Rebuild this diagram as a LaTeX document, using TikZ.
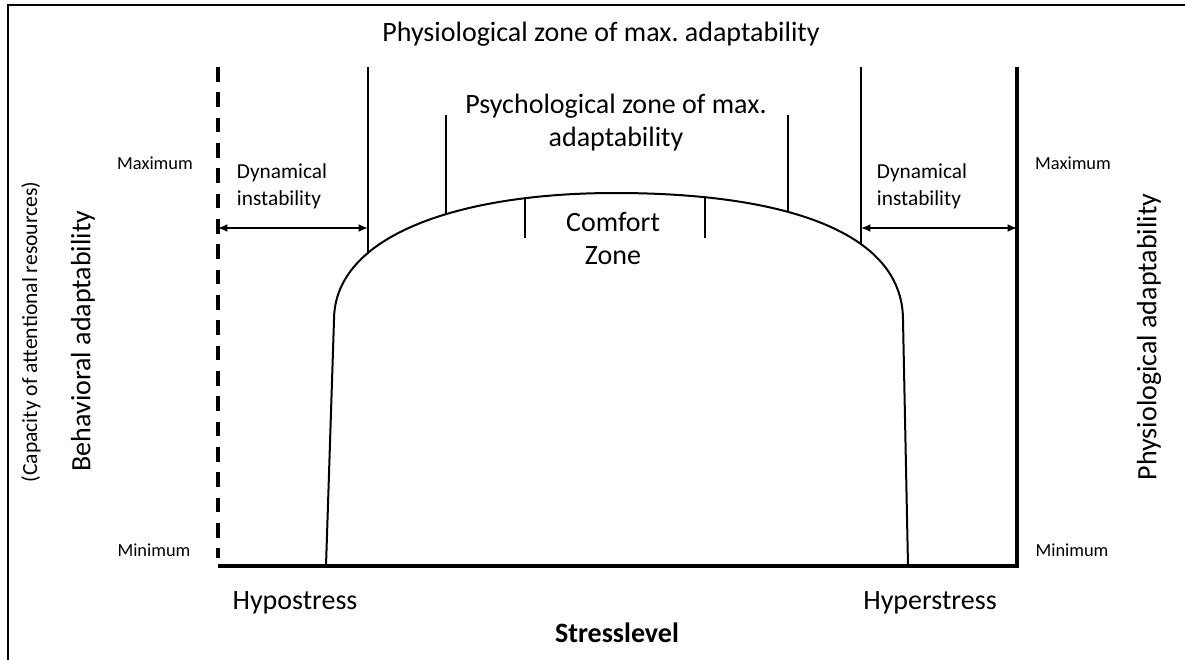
\documentclass[tikz,border=0pt]{standalone}
\usepackage{fontspec}
\setmainfont{Carlito}
\usetikzlibrary{arrows.meta}
\frenchspacing

\begin{document}
\begin{tikzpicture}[x=0.75pt,y=-0.75pt,
    big/.style={font=\fontsize{21}{24.75}\selectfont,align=center},
    mid/.style={font=\fontsize{16}{20}\selectfont,align=left},
    small/.style={font=\fontsize{13.8}{16}\selectfont},
    zoneline/.style={line width=1.1pt},
    axis/.style={line width=3pt},
    gaparrow/.style={line width=1.4pt,{Latex[length=7pt,width=6pt]}-{Latex[length=7pt,width=6pt]}}]
        \useasboundingbox (0,0) rectangle (1185,660);

        % Rahmen
        \draw[line width=2pt] (8,660) -- (8,5) -- (1185,5);

        % Achsen
        \coordinate (hypo top) at (218,67);
        \coordinate (hypo bottom) at (218,558);
        \coordinate (origin) at (218,566);
        \coordinate (hyper end) at (1017,566);
        \coordinate (hyper top) at (1017,67);
        \draw[axis,dash pattern=on 11pt off 8pt] (hypo top) -- (hypo bottom);
        \draw[axis,line join=miter] (origin) -- (hyper end) -- (hyper top);

        % Kurve
        \coordinate (phys l) at (368,253.5);
        \coordinate (phys r) at (861,244.5);
        \coordinate (psych l) at (446,214);
        \coordinate (psych r) at (788,212);
        \coordinate (comf l) at (525,198.5);
        \coordinate (comf r) at (705,197.5);
        \draw[line width=1.5pt] (326,566) -- (334,320)
            .. controls (334,235) and (460,193) .. (615,193)
            .. controls (780,193) and (903,230) .. (903,320) -- (908,566);

        % Zonengrenzen
        \draw[zoneline] (phys l) -- (368,67);
        \draw[zoneline] (phys r) -- (861,67);
        \draw[zoneline] (psych l) -- (446,115);
        \draw[zoneline] (psych r) -- (788,115);
        \draw[zoneline] (525,238) -- (comf l);
        \draw[zoneline] (705,238) -- (comf r);

        % Instabilitaet
        \draw[gaparrow] (218,228) -- (368,228);
        \draw[gaparrow] (861,228) -- (1017,228);
        \node[mid] (dyn l) at (282,186) {Dynamical\\instability};
        \node[mid] (dyn r) at (922,186) {Dynamical\\instability};

        % Zonen
        \node[big] (phys zone) at (601,34) {Physiological zone of max. adaptability};
        \node[big] (psych zone) at (616,123) {Psychological zone of max.\\adaptability};
        \node[big] (comfort) at (613,238) {Comfort\\Zone};

        % Skalen
        \node[small] (max l) at (155,163) {Maximum};
        \node[small] (min l) at (154,550) {Minimum};
        \node[small] (max r) at (1073,163) {Maximum};
        \node[small] (min r) at (1072,550) {Minimum};

        % Achsenbeschriftung
        \node[big] (hypo) at (295,603) {Hypostress};
        \node[big] (hyper) at (930,603) {Hyperstress};
        \node[big,font=\fontsize{21}{24.75}\selectfont\bfseries] (stress) at (617,633) {Stresslevel};
        \node[big,rotate=90] (behav) at (83,341) {Behavioral adaptability};
        \node[rotate=90,font=\fontsize{16.2}{19}\selectfont] (capacity) at (31,332) {(Capacity of attentional resources)};
        \node[big,rotate=90] (physio) at (1149,337) {Physiological adaptability};
    \end{tikzpicture}
\end{document}
